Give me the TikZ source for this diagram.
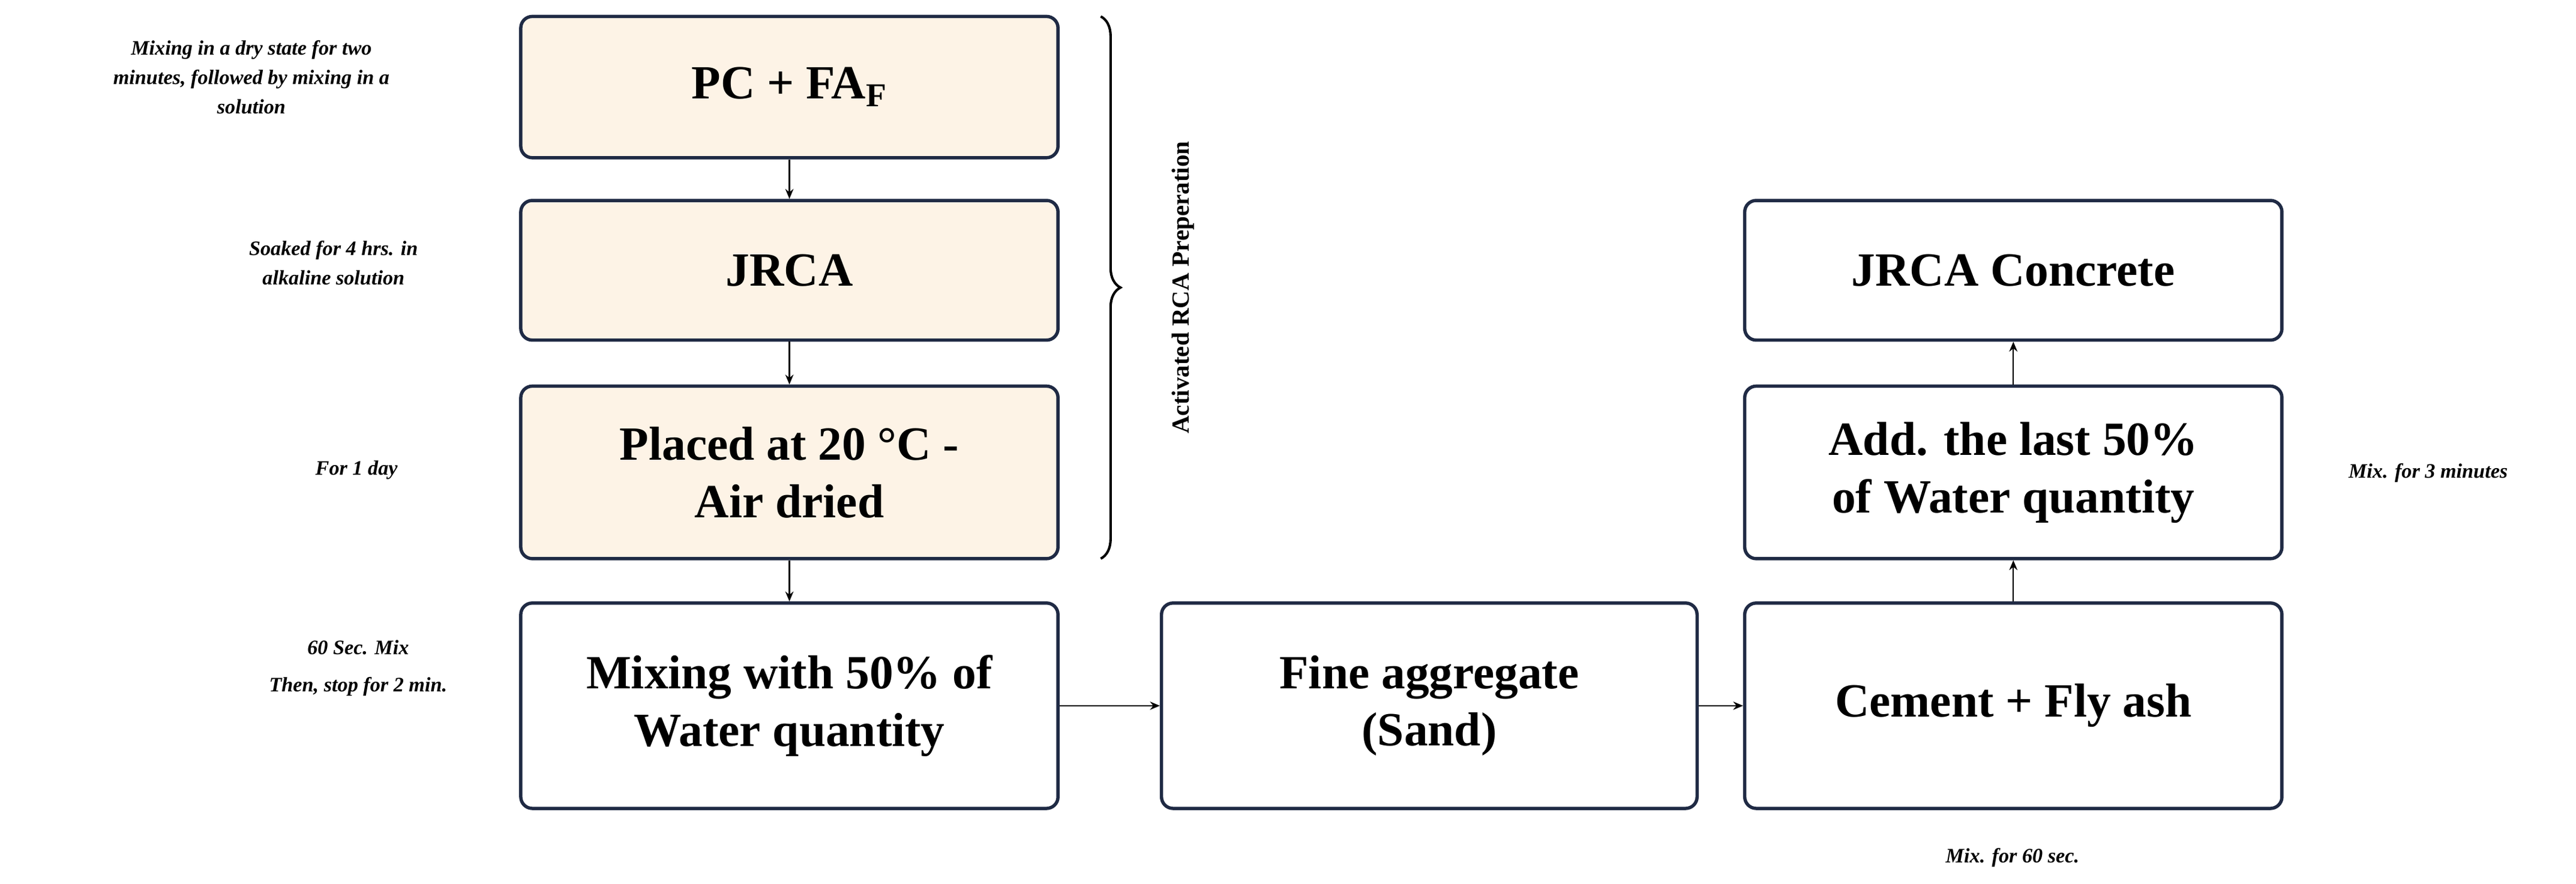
\documentclass[tikz,border=0pt]{standalone}
\usepackage{fontspec}
\setmainfont{Liberation Serif}
\usetikzlibrary{decorations.pathreplacing,arrows.meta}
\definecolor{bd}{HTML}{1F2A44}
\definecolor{bg}{HTML}{FDF3E6}
\begin{document}
\begin{tikzpicture}[x=1pt,y=-1pt,
  box/.style={draw=bd,line width=2pt,rounded corners=7pt,font=\bfseries\fontsize{29}{35}\selectfont,align=center,inner sep=0pt},
  note/.style={font=\bfseries\itshape\fontsize{12.5}{18}\selectfont,align=center},
  arr/.style={-{Stealth[length=6pt,width=5pt]},line width=0.8pt,black}]
\useasboundingbox (0,0) rectangle (1568,538);
\node[box,fill=bg,minimum width=327pt,minimum height=86pt] (b1) at (480.5,53) {PC + FA\textsubscript{F}};
\node[box,fill=bg,minimum width=327pt,minimum height=85pt] (b2) at (480.5,164.5) {JRCA};
\node[box,fill=bg,minimum width=327pt,minimum height=105pt] (b3) at (480.5,287.5) {Placed at 20 °C -\\Air dried};
\node[box,minimum width=327pt,minimum height=125pt] (b4) at (480.5,429.5) {Mixing with 50\% of\\Water quantity};
\node[box,minimum width=326pt,minimum height=125pt] (b5) at (870,429.5) {Fine aggregate\\(Sand)};
\node[box,minimum width=327pt,minimum height=125pt] (b6) at (1225.5,429.5) {Cement + Fly ash};
\node[box,minimum width=327pt,minimum height=105pt] (b7) at (1225.5,287.5) {Add. the last 50\%\\of Water quantity};
\node[box,minimum width=327pt,minimum height=85pt] (b8) at (1225.5,164.5) {JRCA Concrete};
\draw[arr] (b1) -- (b2);
\draw[arr] (b2) -- (b3);
\draw[arr] (b3) -- (b4);
\draw[arr] (b4) -- (b5);
\draw[arr] (b5) -- (b6);
\draw[arr] (b6) -- (b7);
\draw[arr] (b7) -- (b8);
\draw[line width=1.5pt,decorate,decoration={brace,amplitude=12pt}] (670,10) -- (670,340) coordinate[midway] (bm);
\node[font=\bfseries\fontsize{15}{17}\selectfont,rotate=90] (lab) at (720,175) {Activated RCA Preperation};
\node[note] (n1) at (153,47) {Mixing in a dry state for two\\minutes, followed by mixing in a\\solution};
\node[note] (n2) at (203,160) {Soaked for 4 hrs. in\\alkaline solution};
\node[note] (n3) at (217,286) {For 1 day};
\node[note] (n4) at (218,394) {60 Sec. Mix};
\node[note] (n5) at (218,418) {Then, stop for 2 min.};
\node[note] (n6) at (1478,288) {Mix. for 3 minutes};
\node[note] (n7) at (1225,522) {Mix. for 60 sec.};
\end{tikzpicture}
\end{document}
